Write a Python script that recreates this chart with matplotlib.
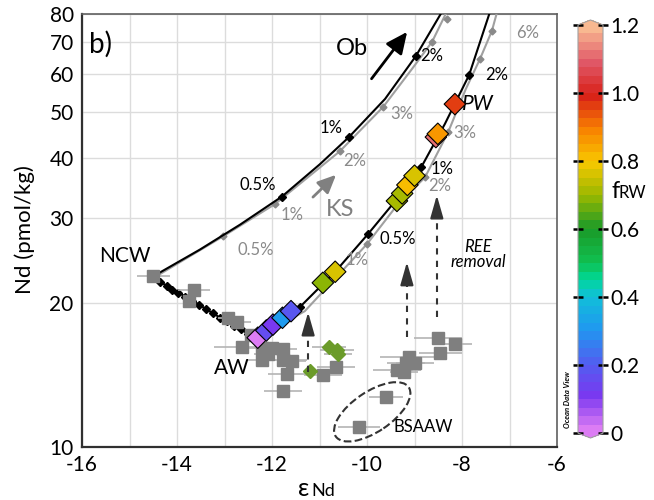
import numpy as np
import matplotlib
matplotlib.use('Agg')
import matplotlib.pyplot as plt
from matplotlib.colors import LinearSegmentedColormap, Normalize
from matplotlib.patches import Ellipse
from matplotlib.transforms import ScaledTranslation
import matplotlib.cm as cm

plt.rcParams['font.family'] = ['Lato', 'DejaVu Sans']

# ---- data ----
# mixing curve NCW -> Ob (black) and its grey twin
ob_x = [-14.5, -13.52, -12.67, -11.79, -10.99, -10.38, -9.62, -8.97, -8.42]
ob_y = [22.7, 25.8, 29.1, 33.3, 38.9, 44.3, 53.2, 65.4, 80.9]
ob_mx = [-11.79, -10.38, -8.97]
ob_my = [33.3, 44.3, 65.4]
obg_x = [-14.5, -13.03, -11.94, -10.57, -9.66, -9.05, -8.63, -8.32]
obg_y = [22.5, 27.5, 32.1, 41.4, 51.2, 61.5, 70.0, 80.9]
obg_mx = [-13.03, -11.94, -10.57, -9.66, -8.63, -8.32]
obg_my = [27.5, 32.1, 41.4, 51.2, 70.0, 78.0]

# mixing curve AW -> PW (black) and its grey twin
pw_x = [-12.4, -11.41, -10.67, -9.98, -9.37, -8.86, -8.36, -7.85, -7.41]
pw_y = [16.9, 19.6, 23.2, 27.8, 32.9, 38.3, 47.2, 59.7, 80.9]
pw_mx = [-11.41, -9.98, -8.86, -7.85]
pw_my = [19.6, 27.8, 38.3, 59.7]
pwg_x = [-12.4, -11.31, -10.0, -9.35, -8.78, -8.29, -7.92, -7.62, -7.37, -7.26]
pwg_y = [16.7, 19.2, 26.5, 32.1, 36.5, 45.4, 55.8, 64.5, 73.8, 80.9]
pwg_mx = [-10.0, -8.78, -8.29, -7.62, -7.37]
pwg_my = [26.5, 36.5, 45.4, 64.5, 73.8]

# NCW -> AW mixing line
na_x = [-14.5, -14.35, -14.22, -14.1, -13.97, -13.83, -13.68, -13.53, -13.39, -13.24,
        -13.09, -12.95, -12.8, -12.65, -12.5]
na_y = [22.7, 22.1, 21.7, 21.3, 21.0, 20.6, 20.2, 19.8, 19.4, 19.0,
        18.6, 18.3, 17.9, 17.6, 17.2]

# model points coloured by f_RW
fr_x = [-12.3, -12.12, -11.98, -11.78, -11.6, -10.93, -10.67, -9.37, -9.26, -9.15, -9.0,
        -8.55, -8.51, -8.15]
fr_y = [16.9, 17.5, 18.0, 18.6, 19.2, 22.0, 23.2, 32.6, 33.8, 35.2, 36.8, 44.3, 45.0, 51.9]
fr_f = [0.0, 0.15, 0.12, 0.3, 0.18, 0.68, 0.76, 0.70, 0.72, 0.82, 0.76, 1.12, 0.85, 0.95]

# seawater samples (grey squares)
sq_x = [-14.5, -13.64, -13.75, -12.93, -12.74, -12.45, -12.63, -12.21, -12.0, -12.08, -11.77,
        -12.21, -11.77, -11.58, -11.68, -11.77, -10.93, -10.65, -9.12, -9.0, -9.18, -9.37,
        -9.22, -8.51, -8.15, -8.46, -9.6, -10.17]
sq_y = [22.7, 21.3, 20.2, 18.6, 18.2, 17.1, 16.2, 16.1, 16.1, 15.6, 16.0,
        15.2, 15.2, 15.1, 14.2, 13.1, 14.1, 14.7, 15.4, 15.0, 15.0, 14.5,
        14.35, 16.9, 16.4, 15.7, 12.7, 11.0]
sq_err = [0.35, 0.33, 0.1, 0.2, 0.3, 0.1, 0.6, 0.3, 0.3, 0.3, 0.3,
          0.3, 0.5, 0.3, 0.4, 0.4, 0.4, 0.4, 0.6, 0.4, 0.4, 0.5,
          0.3, 0.5, 0.35, 0.45, 0.35, 0.45]

# green diamonds
gd_x = [-10.8, -10.63, -10.61, -11.2]
gd_y = [16.2, 15.96, 15.6, 14.4]
gd_err = [0.35, 0.35, 0.3, 0.1]

# REE removal arrows: x, start, tip
ree_x = [-11.24, -9.16, -8.53]
ree_y0 = [14.35, 17.0, 18.7]
ree_y1 = [19.1, 24.3, 33.5]

# colour scale
cb_pos = [0, 0.1, 0.2, 0.3, 0.4, 0.45, 0.5, 0.6, 0.7, 0.8, 0.9, 1.0, 1.1, 1.2]
cb_col = ['#dc7cf4', '#7a38f0', '#5060f0', '#2098f0', '#10c0d8', '#00d898', '#10c050',
          '#1a9a28', '#9ab800', '#f8c800', '#f88000', '#d82018', '#e05868', '#f8b890']
cb_ticks = [0, 0.2, 0.4, 0.6, 0.8, 1.0, 1.2]
cb_labels = ['0', '0.2', '0.4', '0.6', '0.8', '1.0', '1.2']

y_ticks = [10, 20, 30, 40, 50, 60, 70, 80]
x_ticks = [-16, -14, -12, -10, -8, -6]

cmap = LinearSegmentedColormap.from_list(
    'odv', list(zip([p / 1.2 for p in cb_pos], cb_col)), N=48)
norm = Normalize(0, 1.2)

fig = plt.figure(figsize=(6.54, 5.0), dpi=100)
ax = fig.add_axes([0.1254, 0.106, 0.7263, 0.866])

ax.set_yscale('log')
ax.set_xlim(-16, -6)
ax.set_ylim(10, 80)
ax.set_xticks(x_ticks)
ax.set_xticklabels([str(t) for t in x_ticks])
ax.set_xticks(np.arange(-16, -5), minor=True)
ax.set_yticks(y_ticks)
ax.set_yticklabels([str(t) for t in y_ticks])
ax.yaxis.set_minor_locator(matplotlib.ticker.NullLocator())
ax.grid(True, which='both', color='#dcdcdc', lw=1)
ax.set_axisbelow(True)
ax.tick_params(which='both', length=0, labelsize=15, pad=6)
for s in ['left', 'bottom']:
    ax.spines[s].set_color('#303030')
    ax.spines[s].set_linewidth(1.6)
for s in ['top', 'right']:
    ax.spines[s].set_color('#606060')
    ax.spines[s].set_linewidth(1.2)

gry = '#8a8a8a'
# curves
ax.plot(obg_x, obg_y, color='#a0a0a0', lw=1.5, zorder=3)
ax.plot(obg_mx, obg_my, 'D', color=gry, ms=3.5, zorder=3)
ax.plot(ob_x, ob_y, color='black', lw=1.5, zorder=3)
ax.plot(ob_mx, ob_my, 'D', color='black', ms=3.8, zorder=3)
ax.plot(pwg_x, pwg_y, color='#a0a0a0', lw=1.5, zorder=3)
ax.plot(pwg_mx, pwg_my, 'D', color=gry, ms=3.5, zorder=3)
ax.plot(pw_x, pw_y, color='black', lw=1.5, zorder=3)
ax.plot(pw_mx, pw_my, 'D', color='black', ms=3.8, zorder=3)
ax.plot(na_x, na_y, color='black', lw=1.5, zorder=3)
ax.plot(na_x[1:], na_y[1:], 'D', color='black', ms=4, zorder=3)

# samples
ax.errorbar(sq_x, sq_y, xerr=sq_err, fmt='s', color='#7f7f7f', ms=8,
            ecolor='#b4b4b4', elinewidth=1.2, capsize=0, zorder=4)
ax.errorbar(gd_x, gd_y, xerr=gd_err, fmt='D', color='#6b9b2a', ms=7,
            ecolor='#b4b4b4', elinewidth=1.2, capsize=0, zorder=4)

# model points
ax.scatter(fr_x, fr_y, c=fr_f, cmap=cmap, norm=norm, marker='D', s=120,
           edgecolors='black', linewidths=0.8, zorder=5)

# arrows
ax.annotate('', xy=(-9.12, 74.2), xytext=(-9.94, 58.0),
            arrowprops=dict(arrowstyle='-|>,head_length=1.3,head_width=0.6',
                            color='black', lw=2), zorder=6)
ax.annotate('', xy=(-10.61, 37.3), xytext=(-11.18, 32.9),
            arrowprops=dict(arrowstyle='-|>,head_length=1.1,head_width=0.5',
                            color='#808080', lw=2), zorder=6)
for xa, y0, y1 in zip(ree_x, ree_y0, ree_y1):
    ax.plot([xa, xa], [y0, y1 * 0.93], color='#333333', lw=1.5, ls=(0, (3, 3)), zorder=6)
    ax.annotate('', xy=(xa, y1), xytext=(xa, y1 * 0.9),
                arrowprops=dict(arrowstyle='-|>,head_length=1.4,head_width=0.4',
                                color='#333333', lw=1.5, shrinkA=0, shrinkB=0),
                zorder=6)

# BSAAW ellipse
ell = Ellipse((0, 0), 0.88, 0.40, angle=34, fill=False, ls='--', lw=1.5,
              ec='#333333',
              transform=fig.dpi_scale_trans + ScaledTranslation(-9.89, 11.84, ax.transData))
ax.add_patch(ell)

# labels
ax.text(-15.62, 69.3, 'b)', fontsize=20, ha='center', va='center')
ax.text(-10.32, 67.7, 'Ob', fontsize=17, ha='center', va='center')
ax.text(-10.57, 31.3, 'KS', fontsize=17, ha='center', va='center', color='#808080')
ax.text(-15.09, 25.0, 'NCW', fontsize=15, ha='center', va='center')
ax.text(-12.84, 14.6, 'AW', fontsize=15, ha='center', va='center')
ax.text(-7.66, 51.9, 'PW', fontsize=15, ha='center', va='center', style='italic')
ax.text(-8.82, 11.0, 'BSAAW', fontsize=12, ha='center', va='center')
ax.text(-7.66, 25.2, 'REE\nremoval', fontsize=12, ha='center', va='center',
        style='italic', linespacing=0.9)

pct_black = [(-12.29, 35.2, '0.5%'), (-10.76, 46.3, '1%'), (-8.63, 65.4, '2%'),
             (-7.26, 59.7, '2%'), (-8.42, 38.0, '1%'), (-9.35, 27.1, '0.5%')]
pct_grey = [(-12.34, 25.8, '0.5%'), (-11.58, 30.4, '1%'), (-10.25, 39.5, '2%'),
            (-9.26, 49.5, '3%'), (-7.94, 45.2, '3%'), (-6.61, 73.1, '6%'),
            (-8.46, 35.0, '2%'), (-10.21, 24.6, '1%')]
for px, py, t in pct_black:
    ax.text(px, py, t, fontsize=12, ha='center', va='center', color='black', zorder=7)
for px, py, t in pct_grey:
    ax.text(px, py, t, fontsize=12, ha='center', va='center', color='#8a8a8a', zorder=7)

# axis titles
fig.text(25 / 654, 1 - 230 / 500, 'Nd (pmol/kg)', rotation=90, fontsize=16,
         ha='center', va='center')
fig.text(298 / 654, 1 - 496 / 500, 'ε', fontsize=18, ha='left', va='baseline')
fig.text(311 / 654, 1 - 496 / 500, 'Nd', fontsize=13, ha='left', va='baseline')

# colorbar
cax = fig.add_axes([578 / 654, 1 - 438 / 500, 25 / 654, 418 / 500])
sm = cm.ScalarMappable(norm=norm, cmap=cmap)
cb = fig.colorbar(sm, cax=cax, extend='both', extendfrac=0.012)
cb.set_ticks(cb_ticks)
cb.set_ticklabels(cb_labels)
cb.outline.set_edgecolor('#a0a0a0')
cb.outline.set_linewidth(0.8)
cax.tick_params(direction='inout', left=True, right=True, length=7, width=1.8,
                labelsize=15, pad=2)
fig.text(611 / 654, 1 - 198 / 500, 'f', fontsize=17, ha='left', va='baseline')
fig.text(619 / 654, 1 - 198 / 500, 'RW', fontsize=12, ha='left', va='baseline')
fig.text(567 / 654, 1 - 400 / 500, 'Ocean Data View', rotation=90, fontsize=5.5,
         style='italic', fontweight='bold', ha='center', va='center')

fig.savefig('out.png', dpi=100)
